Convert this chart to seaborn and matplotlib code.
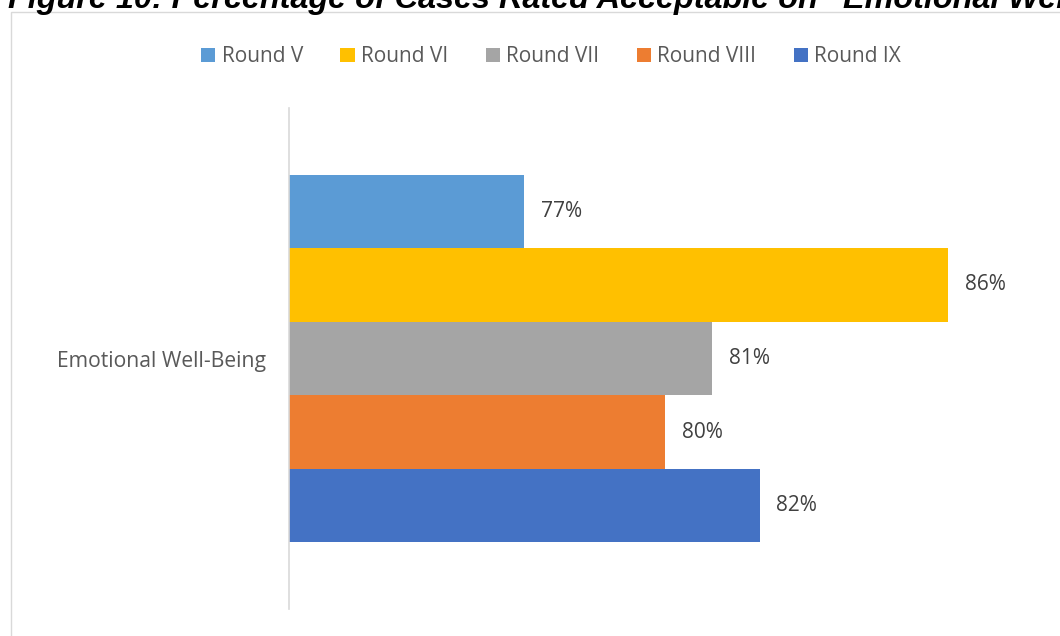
import matplotlib
matplotlib.use("Agg")
import matplotlib.pyplot as plt
import seaborn as sns
import pandas as pd
from matplotlib.patches import Rectangle

# ---- data ----
categories = ["Emotional Well-Being"]
rounds = ["Round V", "Round VI", "Round VII", "Round VIII", "Round IX"]
values = [77, 86, 81, 80, 82]
colors = ["#5B9BD5", "#FFC000", "#A5A5A5", "#ED7D31", "#4472C4"]
title = "Figure 10: Percentage of Cases Rated Acceptable on \u201cEmotional Well-Being\u201d"

df = pd.DataFrame({
    "category": categories * len(rounds),
    "round": rounds,
    "value": values,
})

sns.set_theme(style="white")
plt.rcParams["font.family"] = ["Open Sans", "DejaVu Sans"]

W, H = 1060, 636
fig = plt.figure(figsize=(W / 100, H / 100), dpi=100)
fig.patch.set_facecolor("white")

# axes placement (pixels from top-left)
ax_left, ax_right, ax_top, ax_bottom = 288.5, 1060, 108, 609
ax = fig.add_axes([ax_left / W, 1 - ax_bottom / H, (ax_right - ax_left) / W, (ax_bottom - ax_top) / H])

sns.barplot(
    data=df, x="value", y="category", hue="round", hue_order=rounds,
    palette=dict(zip(rounds, colors)), orient="h", width=0.734, gap=0,
    saturation=1, linewidth=0, errorbar=None, ax=ax, legend=True,
)

px_per_unit = 424 / 9.0
ax.set_xlim(72, 72 + (ax_right - ax_left) / px_per_unit)
ax.set_ylim(0.5, -0.5)

for c in ax.containers:
    ax.bar_label(c, labels=[f"{v:g}%" for v in c.datavalues], padding=12.0,
                 color="#404040", fontsize=15)

handles, labels = ax.get_legend_handles_labels()
ax.get_legend().remove()
fig.legend(handles, labels, loc="center", bbox_to_anchor=(551 / W, 1 - 57 / H),
           ncol=5, frameon=False, fontsize=15, handlelength=0.68, handleheight=0.68,
           handletextpad=0.3, columnspacing=1.8, labelcolor="#595959")

ax.set_xlabel("")
ax.set_ylabel("")
ax.set_xticks([])
ax.tick_params(axis="y", length=0, pad=16.5, labelsize=15.2, labelcolor="#595959")
for s in ["top", "right", "bottom"]:
    ax.spines[s].set_visible(False)
ax.spines["left"].set_color("#D9D9D9")
ax.spines["left"].set_linewidth(1.2)
ax.set_facecolor("none")

# chart border (continues past right and bottom edges)
fig.patches.append(Rectangle((11 / W, -0.2), 2.0, 1.2 - 12 / H, transform=fig.transFigure,
                             fill=False, edgecolor="#D9D9D9", linewidth=1.0, zorder=0))

# truncated title above the chart area
fig.text(8 / W, 1 - 8 / H, title, ha="left", va="baseline", fontsize=23.3,
         fontweight="bold", fontstyle="italic", family=["Liberation Sans", "DejaVu Sans"],
         color="black")

fig.savefig("out.png", dpi=100)
